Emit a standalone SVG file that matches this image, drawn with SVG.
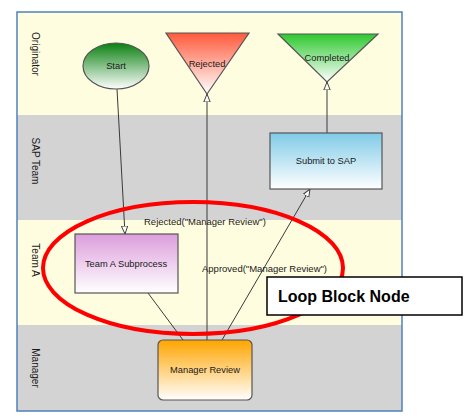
<svg xmlns="http://www.w3.org/2000/svg" width="469" height="419" viewBox="0 0 469 419">
<style>
text{font-family:"Liberation Sans",Arial,sans-serif;fill:#1a1a1a}
.lane-label{font-size:10px;text-anchor:middle}
.node-label{font-size:9.3px;text-anchor:middle}
.edge-label{font-size:9.5px}
.node{stroke:#555;stroke-width:1.2}
.edge{stroke:#3a3a3a;stroke-width:1;fill:none}
</style>
<defs>
<linearGradient id="gGreen" x1="0" y1="0" x2="0" y2="1"><stop offset="0" stop-color="#0a8010"/><stop offset="1" stop-color="#ffffff"/></linearGradient>
<linearGradient id="gRed" x1="0" y1="0" x2="0" y2="1"><stop offset="0" stop-color="#ff5a3c"/><stop offset="1" stop-color="#ffffff"/></linearGradient>
<linearGradient id="gLime" x1="0" y1="0" x2="0" y2="1"><stop offset="0" stop-color="#2ec82e"/><stop offset="1" stop-color="#ffffff"/></linearGradient>
<linearGradient id="gBlue" x1="0" y1="0" x2="0" y2="1"><stop offset="0" stop-color="#80cbe8"/><stop offset="1" stop-color="#ffffff"/></linearGradient>
<linearGradient id="gPurple" x1="0" y1="0" x2="0" y2="1"><stop offset="0" stop-color="#dc9edc"/><stop offset="1" stop-color="#ffffff"/></linearGradient>
<linearGradient id="gOrange" x1="0" y1="0" x2="0" y2="1"><stop offset="0" stop-color="#ffa500"/><stop offset="1" stop-color="#ffffff"/></linearGradient>
<marker id="arrow" viewBox="0 0 10 10" refX="10" refY="5" markerWidth="8" markerHeight="8" markerUnits="userSpaceOnUse" orient="auto"><path d="M0,1 L10,5 L0,9 Z" fill="#fff" stroke="#3a3a3a" stroke-width="1.2"/></marker>
</defs>
<rect width="469" height="419" fill="#ffffff"/>
<g id="lanes">
<rect x="17" y="12" width="385" height="103" fill="#fffde0"/>
<rect x="17" y="115" width="385" height="105" fill="#d3d3d3"/>
<rect x="17" y="220" width="385" height="105" fill="#fffde0"/>
<rect x="17" y="325" width="385" height="86" fill="#d3d3d3"/>
<rect x="17" y="12" width="385" height="399" fill="none" stroke="#4f81bd" stroke-width="1.5"/>
<text class="lane-label" transform="translate(32,54) rotate(90)">Originator</text>
<text class="lane-label" transform="translate(32,161) rotate(90)">SAP Team</text>
<text class="lane-label" transform="translate(32,260) rotate(90)">Team A</text>
<text class="lane-label" transform="translate(32,368) rotate(90)">Manager</text>
</g>
<g id="connectors">
<line class="edge" x1="117" y1="89" x2="125" y2="234" marker-end="url(#arrow)"/>
<line class="edge" x1="207" y1="340" x2="207" y2="94" marker-end="url(#arrow)"/>
<line class="edge" x1="327" y1="133" x2="327" y2="82" marker-end="url(#arrow)"/>
<line class="edge" x1="222" y1="340" x2="310" y2="189" marker-end="url(#arrow)"/>
<line class="edge" x1="148" y1="293" x2="183" y2="340"/>
<text class="edge-label" x="144" y="225">Rejected("Manager Review")</text>
<text class="edge-label" x="202" y="272">Approved("Manager Review")</text>
</g>
<g id="start">
<ellipse class="node" cx="116" cy="66" rx="33" ry="23" fill="url(#gGreen)"/>
<text class="node-label" x="116" y="69">Start</text>
</g>
<g id="rejected">
<polygon class="node" points="166,33 249,33 207,94" fill="url(#gRed)"/>
<text class="node-label" x="207" y="67">Rejected</text>
</g>
<g id="completed">
<polygon class="node" points="278,34 378,34 327,82" fill="url(#gLime)"/>
<text class="node-label" x="327" y="61">Completed</text>
</g>
<g id="submit-to-sap">
<rect class="node" x="270" y="133" width="112" height="56" fill="url(#gBlue)"/>
<text class="node-label" x="326" y="164">Submit to SAP</text>
</g>
<g id="team-a-subprocess">
<rect class="node" x="75" y="234" width="103" height="59" fill="url(#gPurple)"/>
<text class="node-label" x="126" y="267">Team A Subprocess</text>
</g>
<g id="manager-review">
<rect class="node" x="158" y="340" width="94" height="60" rx="5" fill="url(#gOrange)"/>
<text class="node-label" x="205" y="373">Manager Review</text>
</g>
<g id="loop-block-annotation">
<ellipse cx="193" cy="268" rx="150" ry="66" fill="none" stroke="#ff0000" stroke-width="4"/>
<rect x="267" y="277" width="195" height="38" fill="#ffffff" stroke="#000" stroke-width="1.5"/>
<text x="278" y="302" style="font-size:16px;font-weight:bold;fill:#000">Loop Block Node</text>
</g>
</svg>
